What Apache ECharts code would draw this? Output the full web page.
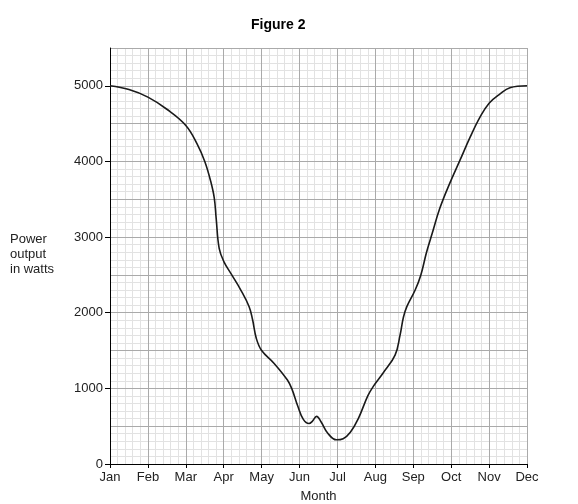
<!DOCTYPE html>
<html>
<head>
<meta charset="utf-8">
<script src="https://cdn.jsdelivr.net/npm/echarts@6/dist/echarts.min.js"></script>
<style>
  html, body { margin: 0; padding: 0; background: #fff; }
  #chart { width: 578px; height: 504px; }
</style>
</head>
<body>
<div id="chart"></div>
<script>
// month labels on the x axis, position 0 = Jan ... 11 = Dec
var monthLabels = ['Jan', 'Feb', 'Mar', 'Apr', 'May', 'Jun', 'Jul', 'Aug', 'Sep', 'Oct', 'Nov', 'Dec'];
var yTicks = [0, 1000, 2000, 3000, 4000, 5000];

// curve: month position and power output (W)
var monthPos = [0, 0.5, 1.0, 1.5, 2.0, 2.3, 2.5, 2.65, 2.75, 2.8, 2.88, 3.0, 3.2, 3.45, 3.67, 3.76, 3.86,
  4.0, 4.33, 4.68, 4.8, 4.95, 5.1, 5.25, 5.33, 5.45, 5.57, 5.74, 5.97, 6.15, 6.34, 6.55, 6.8, 6.95,
  7.2, 7.52, 7.65, 7.74, 7.83, 8.05, 8.2, 8.35, 8.5, 8.7, 8.97, 9.23, 9.5, 9.76, 10.0, 10.29, 10.55, 11.0];
var watts = [5000, 4950, 4850, 4690, 4476, 4230, 4000, 3750, 3520, 3250, 2850, 2680, 2510, 2300, 2080, 1910, 1660,
  1500, 1330, 1110, 990, 770, 590, 535, 560, 630, 555, 410, 320, 335, 420, 600, 900, 1030,
  1200, 1440, 1700, 1940, 2080, 2300, 2500, 2800, 3050, 3380, 3720, 4014, 4321, 4585, 4770, 4894, 4974, 5000];

var points = monthPos.map(function (m, i) { return [m, watts[i]]; });

var font = 'Liberation Sans, Arial, sans-serif';
var minorColor = '#e2e2e2';
var majorColor = '#aaaaaa';

// hidden axes that only draw the graph paper lines
function gridAxis(max, interval, color, z) {
    return {
        type: 'value', min: 0, max: max, interval: interval, z: z,
        axisLine: {show: false}, axisTick: {show: false}, axisLabel: {show: false},
        splitLine: {show: true, lineStyle: {color: color, width: 1}}
    };
}

var chart = echarts.init(document.getElementById('chart'));
chart.setOption({
    animation: false,
    title: {
        text: 'Figure 2',
        left: 246, top: 13,
        textStyle: {fontFamily: font, fontSize: 14, fontWeight: 'bold', color: '#000'}
    },
    grid: {left: 110, right: 51, top: 48, bottom: 40, outerBoundsMode: 'none'},
    xAxis: [{
        type: 'value', min: 0, max: 11, interval: 1, z: 3,
        name: 'Month', nameLocation: 'middle', nameGap: 26,
        nameTextStyle: {fontFamily: font, fontSize: 13, color: '#222'},
        axisLine: {onZero: false, lineStyle: {color: '#000', width: 1}},
        axisTick: {show: true, length: 4, inside: false, lineStyle: {color: '#000'}},
        axisLabel: {
            fontFamily: font, fontSize: 13, color: '#222', margin: 7,
            formatter: function (v) { return monthLabels[Math.round(v)] || ''; }
        },
        splitLine: {show: false}
    },
        gridAxis(11, 1, majorColor, 1),
        gridAxis(11, 0.2, minorColor, 0)
    ],
    yAxis: [{
        type: 'value', min: 0, max: 5500, interval: 1000, z: 3,
        axisLine: {show: true, onZero: false, lineStyle: {color: '#000', width: 1}},
        axisTick: {show: true, length: 5, customValues: yTicks, lineStyle: {color: '#000'}},
        axisLabel: {
            fontFamily: font, fontSize: 13, color: '#222', margin: 7,
            customValues: yTicks,
            formatter: function (v) { return yTicks.indexOf(v) >= 0 ? String(v) : ''; }
        },
        splitLine: {show: false}
    },
        gridAxis(5500, 500, majorColor, 1),
        gridAxis(5500, 100, minorColor, 0)
    ],
    graphic: [{
        type: 'text', left: 10, top: 232,
        style: {
            text: 'Power\noutput\nin watts', fill: '#222',
            font: '13px ' + font, lineHeight: 15
        }
    }],
    series: [{
        type: 'line',
        data: points,
        symbol: 'none',
        smooth: 0.4,
        lineStyle: {color: '#1a1a1a', width: 1.6},
        z: 5
    }]
});
</script>
</body>
</html>
